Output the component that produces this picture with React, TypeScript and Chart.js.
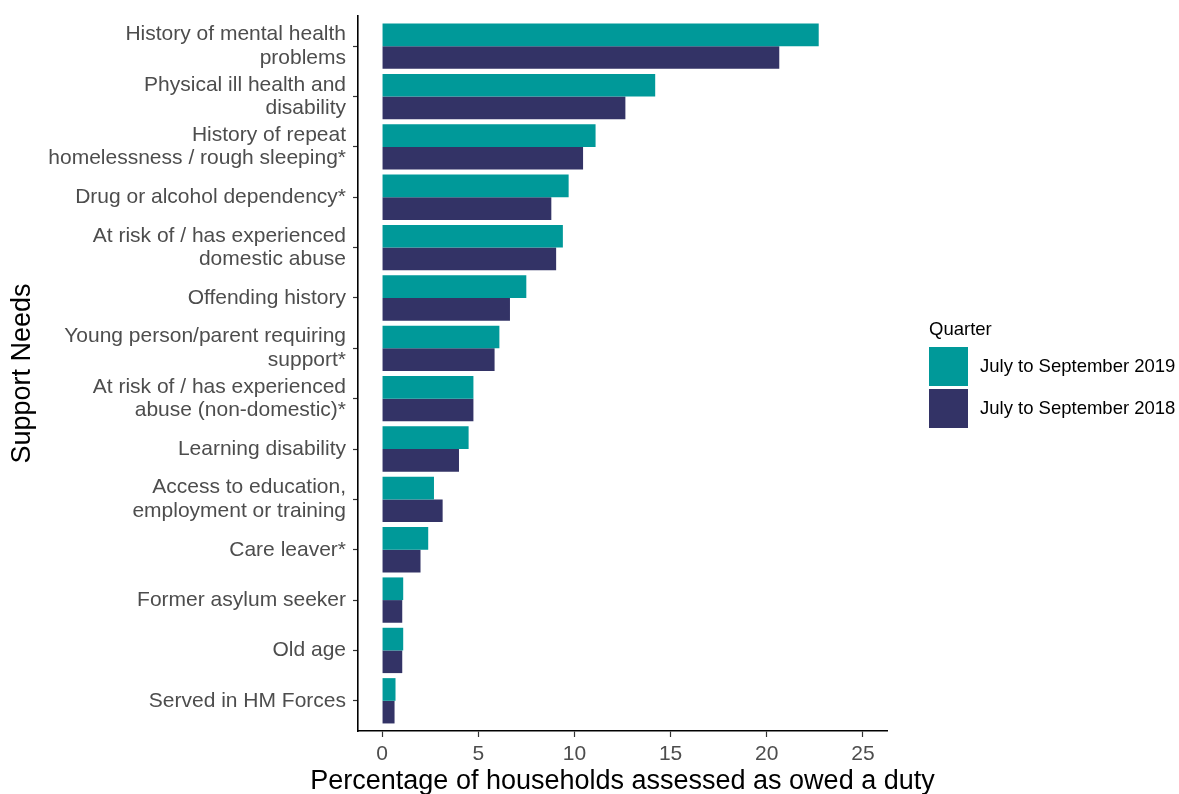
import React, { useEffect, useRef } from "react";
import { Chart, registerables } from "chart.js";

Chart.register(...registerables);

const categories: string[][] = [
  ["History of mental health", "problems"],
  ["Physical ill health and", "disability"],
  ["History of repeat", "homelessness / rough sleeping*"],
  ["Drug or alcohol dependency*"],
  ["At risk of / has experienced", "domestic abuse"],
  ["Offending history"],
  ["Young person/parent requiring", "support*"],
  ["At risk of / has experienced", "abuse (non-domestic)*"],
  ["Learning disability"],
  ["Access to education,", "employment or training"],
  ["Care leaver*"],
  ["Former asylum seeker"],
  ["Old age"],
  ["Served in HM Forces"],
];

const series2019 = [22.7, 14.2, 11.1, 9.7, 9.4, 7.5, 6.1, 4.75, 4.5, 2.7, 2.4, 1.1, 1.1, 0.7];
const series2018 = [20.65, 12.65, 10.45, 8.8, 9.05, 6.65, 5.85, 4.75, 4.0, 3.15, 2.0, 1.05, 1.05, 0.65];

const seriesNames = ["July to September 2019", "July to September 2018"];
const seriesColors = ["#009999", "#333366"];
const xTicks = [0, 5, 10, 15, 20, 25];
const legendTitle = "Quarter";
const xTitle = "Percentage of households assessed as owed a duty";
const yTitle = "Support Needs";

const FONT = "'Liberation Sans', Arial, 'DejaVu Sans', sans-serif";

export default function App() {
  const canvasRef = useRef<HTMLCanvasElement | null>(null);

  useEffect(() => {
    const canvas = canvasRef.current;
    if (!canvas) return;

    const annotationPlugin = {
      id: "ggExtras",
      afterDraw(chart: any) {
        const ctx = chart.ctx;
        const area = chart.chartArea;
        ctx.save();
        // axis titles
        ctx.fillStyle = "#000";
        ctx.font = `27px ${FONT}`;
        ctx.textAlign = "center";
        ctx.textBaseline = "middle";
        ctx.fillText(xTitle, (area.left + area.right) / 2, 782);
        ctx.save();
        ctx.translate(23, (area.top + area.bottom) / 2);
        ctx.rotate(-Math.PI / 2);
        ctx.fillText(yTitle, 0, 0);
        ctx.restore();
        // legend
        ctx.font = `18.5px ${FONT}`;
        ctx.textAlign = "left";
        ctx.textBaseline = "middle";
        ctx.fillText(legendTitle, 929, 330);
        chart.data.datasets.forEach((ds: any, i: number) => {
          const y = 347 + i * 42;
          ctx.fillStyle = ds.backgroundColor;
          ctx.fillRect(929, y, 39, 39);
          ctx.fillStyle = "#000";
          ctx.fillText(ds.label, 980, y + 20);
        });
        ctx.restore();
      },
    };

    const chart = new Chart(canvas, {
      type: "bar",
      data: {
        datasets: [
          {
            label: seriesNames[0],
            data: series2019.map((v, i) => ({ x: v, y: i })),
            backgroundColor: seriesColors[0],
            borderWidth: 0,
            categoryPercentage: 0.9,
            barPercentage: 1.0,
          },
          {
            label: seriesNames[1],
            data: series2018.map((v, i) => ({ x: v, y: i })),
            backgroundColor: seriesColors[1],
            borderWidth: 0,
            categoryPercentage: 0.9,
            barPercentage: 1.0,
          },
        ],
      },
      options: {
        indexAxis: "y",
        responsive: false,
        animation: false,
        layout: { padding: { top: 16, right: 292, bottom: 0, left: 0 } },
        plugins: {
          legend: { display: false },
          tooltip: { enabled: false },
        },
        scales: {
          y: {
            type: "linear",
            reverse: true,
            offset: false,
            min: -0.6,
            max: 13.6,
            afterBuildTicks: (scale: any) => {
              scale.ticks = categories.map((_, i) => ({ value: i }));
            },
            afterFit: (scale: any) => {
              scale.width = 358;
              scale.paddingTop = 0;
              scale.paddingBottom = 0;
            },
            ticks: {
              autoSkip: false,
              color: "#4d4d4d",
              padding: 7,
              font: { family: FONT, size: 21, lineHeight: 1.12 },
              callback: (v: any) => {
                const c = categories[v as number];
                return c ? (c.length === 1 ? c[0] : c) : "";
              },
            },
            grid: {
              offset: false,
              drawOnChartArea: false,
              drawTicks: true,
              tickLength: 5,
              tickColor: "#333333",
              tickWidth: 1.2,
            },
            border: { display: true, color: "#000", width: 1.6 },
            title: { display: false },
          },
          x: {
            type: "linear",
            min: -1.25,
            max: 26.25,
            afterBuildTicks: (scale: any) => {
              scale.ticks = xTicks.map((v) => ({ value: v }));
            },
            afterFit: (scale: any) => {
              scale.height = 63;
              scale.paddingLeft = 0;
              scale.paddingRight = 0;
            },
            ticks: {
              color: "#4d4d4d",
              padding: 6,
              maxRotation: 0,
              font: { family: FONT, size: 21, lineHeight: 1.1 },
            },
            grid: {
              drawOnChartArea: false,
              drawTicks: true,
              tickLength: 6,
              tickColor: "#333333",
              tickWidth: 1.2,
            },
            border: { display: true, color: "#000", width: 1.6 },
            title: { display: false },
          },
        },
      },
      plugins: [annotationPlugin],
    } as any);

    return () => chart.destroy();
  }, []);

  return (
    <div style={{ position: "fixed", left: 0, top: 0, width: 1179, height: 794, background: "#fff" }}>
      <canvas ref={canvasRef} width={1179} height={794} style={{ display: "block" }} />
    </div>
  );
}
